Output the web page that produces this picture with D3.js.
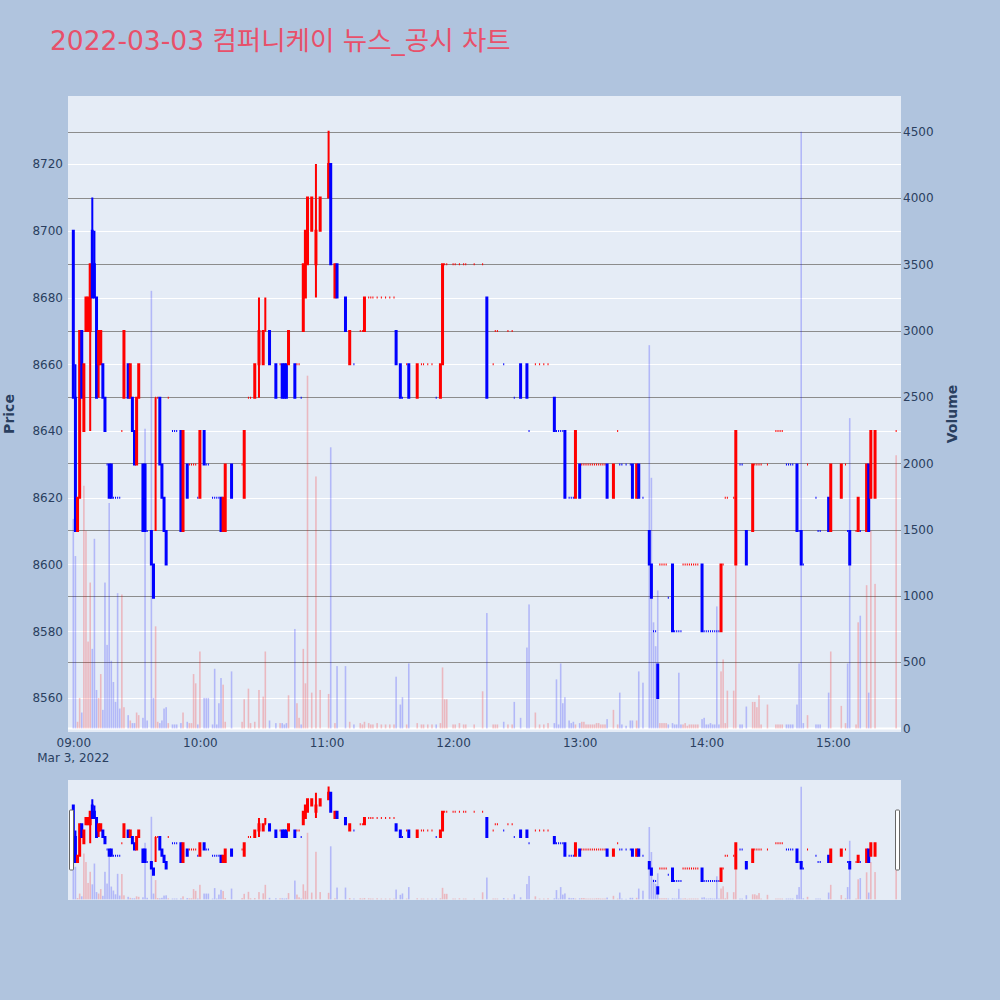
<!DOCTYPE html>
<html>
<head>
<meta charset="utf-8">
<script src="https://cdn.jsdelivr.net/npm/d3@7"></script>
<style>
body { margin: 0; background: #b0c4de; }
svg { display: block; font-family: "DejaVu Sans", "Noto Sans CJK KR", sans-serif; }
</style>
</head>
<body>
<svg id="chart" width="1000" height="1000"></svg>
<script>
// 1분봉 (체결 있는 분만)
const times = [
  "09:00","09:01","09:02","09:03","09:04","09:05","09:06","09:07","09:08","09:09","09:10","09:11","09:12","09:13","09:14","09:15","09:16","09:17","09:18","09:19","09:20","09:21","09:22","09:23","09:24","09:26","09:27","09:28","09:29","09:30","09:31","09:33","09:34","09:35","09:37","09:38","09:39","09:40","09:41","09:42","09:43","09:44","09:45","09:47","09:48","09:49","09:51","09:52","09:54","09:55","09:56","09:57","09:58","09:59",
  "10:00","10:02","10:03","10:04","10:06","10:07","10:08","10:09","10:10","10:11","10:12","10:15","10:20","10:21","10:23","10:24","10:26","10:28","10:30","10:31","10:33","10:36","10:38","10:39","10:40","10:41","10:42","10:45","10:46","10:47","10:48","10:49","10:50","10:51","10:53","10:55","10:57",
  "11:01","11:02","11:04","11:05","11:09","11:11","11:13","11:16","11:17","11:18","11:20","11:21","11:22","11:24","11:26","11:28","11:30","11:32","11:33","11:35","11:36","11:38","11:39","11:43","11:45","11:46","11:48","11:50","11:52","11:54","11:55","11:56","11:57",
  "12:00","12:01","12:03","12:05","12:06","12:10","12:14","12:16","12:19","12:20","12:21","12:24","12:26","12:28","12:29","12:32","12:35","12:36","12:39","12:41","12:43","12:45","12:48","12:49","12:50","12:51","12:52","12:53","12:55","12:56","12:57","12:58",
  "13:00","13:01","13:02","13:03","13:04","13:05","13:06","13:07","13:08","13:09","13:10","13:11","13:12","13:13","13:16","13:18","13:19","13:20","13:22","13:24","13:25","13:27","13:28","13:30","13:33","13:34","13:35","13:36","13:37","13:38","13:39","13:40","13:41","13:42","13:44","13:45","13:46","13:47","13:48","13:49","13:50","13:51","13:52","13:53","13:54","13:55","13:56","13:58","13:59",
  "14:00","14:01","14:02","14:03","14:04","14:05","14:06","14:07","14:08","14:09","14:10","14:13","14:14","14:16","14:17","14:19","14:22","14:23","14:24","14:25","14:26","14:29","14:33","14:34","14:35","14:36","14:38","14:39","14:40","14:41","14:43","14:44","14:45","14:46","14:48","14:52","14:53","14:54","14:58","14:59",
  "15:04","15:06","15:07","15:08","15:11","15:12","15:13","15:16","15:17","15:18","15:20","15:30"
];
const opens = [
  8700,8650,8610,8620,8670,8640,8670,8670,8670,8700, 8690,8680,8660,8660,8660,8650,8630,8630,8630,8620, 8620,8620,8620,8640,8650, 8660,8650,8650,8640,8630,8650, 8630,8630,8610, 8610,8600,8650,8650,8650,8630,8620,8610,8650, 8640,8640,8640, 8640,8610, 8630,8630,8630,8630,8630,8620,
  8620,8640,8630,8630,8620,8620,8620,8620,8620,8610, 8610,8630,8630,8620,8650,8650,8650,8660,8660,8670, 8670,8660,8660,8660,8660,8660,8660,8660,8660,8660, 8650,8670,8680,8690,8700,8690,8700,
  8710,8720,8680,8690,8680,8660,8660,8670,8670,8670, 8680,8680,8680,8680,8680,8680,8680,8680,8670,8660, 8650,8660,8660,8650,8660,8660,8660,8660,8650,8650, 8660,8690,8690,
  8690,8690,8690,8690,8690,8690,8690,8680,8660,8670, 8670,8660,8670,8670,8650,8660,8660,8640,8660,8660, 8660,8660,8650,8640,8640,8640,8640,8640,8620,8620, 8620,8620,
  8630,8630,8630,8630,8630,8630,8630,8630,8630,8630,8630,8630,8630, 8630,8620,8640,8630,8630,8630,8630,8630,8620,8630,8620, 8610,8600,8580,8580,8570, 8600,8600,8600,8600,8590,8600, 8580,8580,8580,8580, 8600,8600,8600,8600,8600,8600,8600,8600, 8600,8580,
  8580,8580,8580,8580,8580,8580,8580, 8580,8600,8620,8620,8620,8600, 8630,8630,8610,8610, 8630,8630,8630,8630,8630, 8640,8640,8640,8640, 8630,8630,8630,8630, 8630,8610,8610,8600,8630, 8620,8610,8610, 8620,8610,
  8620,8630,8610,8610,8610,8610,8610,8610,8630,8620,8620,8640
];
const highs = [
  8700,8660,8620,8670,8670,8660,8680,8680,8690,8710, 8700,8680,8670,8670,8660,8650,8630,8630,8630,8620, 8620,8620,8620,8640,8670, 8660,8660,8650,8640,8650,8660, 8630,8630,8610, 8610,8600,8650,8650,8650,8630,8620,8610,8650, 8640,8640,8640, 8640,8640, 8630,8630,8630,8630,8630,8620,
  8640,8640,8630,8630,8620,8620,8620,8620,8620,8620, 8630,8630,8630,8640,8650,8650,8660,8680,8670,8680, 8670,8660,8660,8660,8660,8660,8670,8660,8660,8660, 8650,8690,8700,8710,8710,8720,8710,
  8730,8720,8690,8690,8680,8670,8660,8670,8670,8680, 8680,8680,8680,8680,8680,8680,8680,8680,8670,8660, 8650,8660,8660,8660,8660,8660,8660,8660,8650,8660, 8690,8690,8690,
  8690,8690,8690,8690,8690,8690,8690,8680,8660,8670, 8670,8660,8670,8670,8650,8660,8660,8640,8660,8660, 8660,8660,8650,8640,8640,8640,8640,8640,8620,8620, 8620,8640,
  8630,8630,8630,8630,8630,8630,8630,8630,8630,8630,8630,8630,8630, 8630,8630,8640,8630,8630,8630,8630,8630,8630,8630,8620, 8610,8600,8580,8580,8570, 8600,8600,8600,8600,8590,8600, 8580,8580,8580,8580, 8600,8600,8600,8600,8600,8600,8600,8600, 8600,8580,
  8580,8580,8580,8580,8580,8580,8580, 8600,8600,8620,8620,8620,8640, 8630,8630,8610,8630, 8630,8630,8630,8630,8630, 8640,8640,8640,8640, 8630,8630,8630,8630, 8630,8610,8610,8600,8630, 8620,8610,8610, 8620,8630,
  8630,8630,8610,8610,8610,8620,8610,8630,8630,8640,8640,8640
];
const lows = [
  8650,8610,8610,8620,8650,8640,8670,8670,8640,8680, 8680,8650,8650,8660,8650,8640,8630,8620,8620,8620, 8620,8620,8620,8640,8650, 8650,8650,8640,8630,8630,8650, 8610,8610,8610, 8600,8590,8610,8650,8630,8620,8610,8600,8650, 8640,8640,8640, 8610,8610, 8620,8630,8630,8630,8630,8620,
  8620,8630,8630,8630,8620,8620,8620,8620,8610,8610, 8610,8620,8630,8620,8650,8650,8650,8650,8660,8670, 8660,8650,8660,8650,8650,8650,8660,8650,8660,8660, 8650,8670,8680,8690,8700,8680,8700,
  8710,8690,8680,8680,8670,8660,8660,8670,8670,8670, 8680,8680,8680,8680,8680,8680,8680,8680,8660,8650, 8650,8660,8650,8650,8660,8660,8660,8660,8650,8650, 8660,8690,8690,
  8690,8690,8690,8690,8690,8690,8690,8650,8660,8670, 8670,8660,8670,8670,8650,8650,8650,8640,8660,8660, 8660,8660,8640,8640,8640,8640,8640,8620,8620,8620, 8620,8620,
  8620,8630,8630,8630,8630,8630,8630,8630,8630,8630,8630,8630,8630, 8620,8620,8640,8630,8630,8630,8630,8620,8620,8620,8620, 8600,8590,8580,8580,8560, 8600,8600,8600,8600,8590,8580, 8580,8580,8580,8580, 8600,8600,8600,8600,8600,8600,8600,8600, 8580,8580,
  8580,8580,8580,8580,8580,8580,8580, 8580,8600,8620,8620,8620,8600, 8630,8630,8600,8610, 8630,8630,8630,8630,8630, 8640,8640,8640,8640, 8630,8630,8630,8630, 8610,8610,8600,8600,8630, 8620,8610,8610, 8610,8610,
  8620,8630,8610,8600,8610,8610,8610,8610,8610,8620,8620,8640
];
const closes = [
  8650,8610,8620,8670,8650,8660,8680,8680,8690,8680, 8680,8650,8670,8670,8650,8640,8630,8620,8620,8620, 8620,8620,8620,8640,8670, 8650,8660,8640,8630,8650,8660, 8610,8610,8610, 8600,8590,8650,8650,8630,8620,8610,8600,8650, 8640,8640,8640, 8610,8640, 8620,8630,8630,8630,8630,8620,
  8640,8630,8630,8630,8620,8620,8620,8620,8610,8620, 8630,8620,8630,8640,8650,8650,8660,8670,8670,8670, 8660,8650,8660,8650,8650,8650,8670,8650,8660,8660, 8650,8690,8700,8710,8710,8700,8710,
  8720,8690,8690,8680,8670,8670,8660,8670,8670,8680, 8680,8680,8680,8680,8680,8680,8680,8680,8660,8650, 8650,8660,8650,8660,8660,8660,8660,8660,8650,8660, 8690,8690,8690,
  8690,8690,8690,8690,8690,8690,8690,8650,8660,8670, 8670,8660,8670,8670,8650,8650,8650,8640,8660,8660, 8660,8660,8640,8640,8640,8640,8640,8620,8620,8620, 8620,8640,
  8620,8630,8630,8630,8630,8630,8630,8630,8630,8630,8630,8630,8630, 8620,8630,8640,8630,8630,8630,8630,8620,8630,8620,8620, 8600,8590,8580,8580,8560, 8600,8600,8600,8600,8590,8580, 8580,8580,8580,8580, 8600,8600,8600,8600,8600,8600,8600,8600, 8580,8580,
  8580,8580,8580,8580,8580,8580,8580, 8600,8600,8620,8620,8620,8640, 8630,8630,8600,8630, 8630,8630,8630,8630,8630, 8640,8640,8640,8640, 8630,8630,8630,8630, 8610,8610,8600,8600,8630, 8620,8610,8610, 8610,8630,
  8630,8630,8610,8600,8610,8620,8610,8630,8610,8640,8640,8640
];
const volumes = [
  1580,1300,50,230,120,1830,1490,655,1100,600, 1430,290,230,410,140,1100,630,1700,510,350, 200,1020,150,1010,160, 100,60,40,40,120,100, 80,2260,60, 3300,230,770,50,40,60,150,160,40, 30,30,30, 40,120, 50,40,40,410,340,30,
  580,230,230,230,30,450,30,190,380,330, 50,430,50,220,300,40,50,290,240,580, 60,40,40,40,30,40,250,750,190,80, 30,600,340,2660,270,1900,290,
  260,2120,40,470,470,50,30,40,30,50, 40,30,30,40,30,30,30,30,390,180, 235,30,490,40,30,30,30,30,30,40, 460,220,220,
  30,30,40,30,30,30,280,870,30,30, 30,50,30,30,200,80,610,935,120,30, 30,40,40,370,30,490,190,235,60,40, 50,30,
  40,50,50,30,30,30,30,30,40,40,30,30,30, 70,140,30,270,30,20,60,60,60,430,345, 2890,1890,800,620,1040, 40,40,40,40,30,40, 30,30,420,30, 30,40,20,30,30,30,30,30, 70,80,
  30,30,40,30,30,920,30, 430,520,40,285,285,1300, 30,30,165,200, 200,160,250,30,180, 30,30,30,30, 30,30,30,30, 180,490,4500,40,100, 30,30,30, 270,580,
  170,40,490,2340,30,800,850,1080,270,1490,1090,2060
];

const priceTicks = [8560, 8580, 8600, 8620, 8640, 8660, 8680, 8700, 8720];
const volumeTicks = [0, 500, 1000, 1500, 2000, 2500, 3000, 3500, 4000, 4500];
const hourTicks = ["09:00", "10:00", "11:00", "12:00", "13:00", "14:00", "15:00"];

const titleText = "2022-03-03 컴퍼니케이 뉴스_공시 차트";
const day = "2022-03-03";

const INC = "#ff0000", DEC = "#0000ff";
const INK = "#2a3f5f";
const PLOT_BG = "#e5ecf6";

const plot = { left: 68, right: 901, top: 96, bottom: 732 };
const slider = { top: 780, bottom: 900 };

const svg = d3.select("#chart");

const parseTime = d3.timeParse("%Y-%m-%d %H:%M");
const dates = times.map(t => parseTime(day + " " + t));
const t0 = parseTime(day + " 09:00");
const MIN = 60000;

// 도지의 방향은 직전 종가로 판단
let dir = [];
closes.forEach((c, i) => {
  const o = opens[i];
  let d;
  if (c > o) d = 1;
  else if (c < o) d = -1;
  else if (i === 0) d = -1;
  else if (c > closes[i - 1]) d = 1;
  else if (c < closes[i - 1]) d = -1;
  else d = dir[i - 1];
  dir.push(d);
});
const candleColor = i => dir[i] > 0 ? INC : DEC;

let x = d3.scaleTime()
  .domain([new Date(+t0 - 2.52 * MIN), new Date(+t0 + 392.3 * MIN)])
  .range([plot.left, plot.right]);

let yPrice = d3.scaleLinear().domain([8549.8, 8740.4]).range([plot.bottom, plot.top]);
let yVol = d3.scaleLinear().domain([-27, 4769]).range([plot.bottom, plot.top]);

// 제목
svg.append("text")
  .attr("x", 50).attr("y", 50)
  .attr("font-size", 26.5)
  .attr("fill", "#e8506a")
  .text(titleText);

// 메인 영역
svg.append("rect")
  .attr("x", plot.left).attr("y", plot.top)
  .attr("width", plot.right - plot.left).attr("height", plot.bottom - plot.top)
  .attr("fill", PLOT_BG);

let defs = svg.append("defs");
defs.append("clipPath").attr("id", "clipMain")
  .append("rect")
  .attr("x", plot.left).attr("y", plot.top)
  .attr("width", plot.right - plot.left).attr("height", plot.bottom - plot.top);
defs.append("clipPath").attr("id", "clipSlider")
  .append("rect")
  .attr("x", plot.left).attr("y", slider.top)
  .attr("width", plot.right - plot.left).attr("height", slider.bottom - slider.top);

// 그리드
let grid = svg.append("g");
grid.selectAll("line.pgrid").data(priceTicks).join("line")
  .attr("class", "pgrid")
  .attr("x1", plot.left).attr("x2", plot.right)
  .attr("y1", d => Math.round(yPrice(d)) + 0.5).attr("y2", d => Math.round(yPrice(d)) + 0.5)
  .attr("stroke", "#ffffff").attr("stroke-width", 1);
grid.selectAll("line.vgrid").data(volumeTicks.filter(v => v > 0)).join("line")
  .attr("class", "vgrid")
  .attr("x1", plot.left).attr("x2", plot.right)
  .attr("y1", d => Math.round(yVol(d)) + 0.5).attr("y2", d => Math.round(yVol(d)) + 0.5)
  .attr("stroke", "#8c8c8c").attr("stroke-width", 1);
grid.append("line")
  .attr("x1", plot.left).attr("x2", plot.right)
  .attr("y1", yVol(0)).attr("y2", yVol(0))
  .attr("stroke", "#ffffff").attr("stroke-width", 2);

const idx = d3.range(times.length);

const candlePath = (yScale, bw) => i => {
  const cx = x(dates[i]);
  const yo = yScale(opens[i]), yc = yScale(closes[i]);
  const top = Math.min(yo, yc), bot = Math.max(yo, yc);
  return "M" + (cx - bw) + "," + bot + "H" + (cx + bw) + "V" + top + "H" + (cx - bw) + "Z" +
    "M" + cx + "," + top + "V" + yScale(highs[i]) +
    "M" + cx + "," + bot + "V" + yScale(lows[i]);
};

const drawCandles = (g, yScale, bw, sw) => {
  g.selectAll("path").data(idx).join("path")
    .attr("d", candlePath(yScale, bw))
    .attr("fill", candleColor)
    .attr("stroke", candleColor)
    .attr("stroke-width", sw);
};

const drawVolume = (g, yScale, bw) => {
  g.selectAll("rect").data(idx).join("rect")
    .attr("x", i => x(dates[i]) - bw / 2)
    .attr("width", bw)
    .attr("y", i => yScale(volumes[i]))
    .attr("height", i => yScale(0) - yScale(volumes[i]))
    .attr("fill", candleColor)
    .attr("fill-opacity", 0.22);
};

let mainCandles = svg.append("g").attr("clip-path", "url(#clipMain)");
drawCandles(mainCandles, yPrice, 0.5, 2);
let mainVol = svg.append("g").attr("clip-path", "url(#clipMain)");
drawVolume(mainVol, yVol, 1.6);

// 축
let leftAxis = d3.axisLeft(yPrice).tickValues(priceTicks).tickSize(0).tickPadding(5).tickFormat(d3.format("d"));
let gLeft = svg.append("g").attr("transform", "translate(" + plot.left + ",0)").call(leftAxis);

let rightAxis = d3.axisRight(yVol).tickValues(volumeTicks).tickSize(0).tickPadding(2).tickFormat(d3.format("d"));
let gRight = svg.append("g").attr("transform", "translate(" + plot.right + ",0)").call(rightAxis);

let hourDates = hourTicks.map(t => parseTime(day + " " + t));
let bottomAxis = d3.axisBottom(x).tickValues(hourDates).tickSize(0).tickPadding(6).tickFormat(d3.timeFormat("%H:%M"));
let gBottom = svg.append("g").attr("transform", "translate(0," + plot.bottom + ")").call(bottomAxis);

[gLeft, gRight, gBottom].forEach(g => {
  g.select(".domain").remove();
  g.selectAll("text")
    .attr("fill", INK)
    .attr("font-size", 12)
    .attr("font-family", "DejaVu Sans, sans-serif");
});

svg.append("text")
  .attr("x", x(t0)).attr("y", 762)
  .attr("text-anchor", "middle")
  .attr("font-size", 12).attr("fill", INK)
  .text(d3.timeFormat("%b %-d, %Y")(t0));

svg.append("text")
  .attr("transform", "translate(14,414) rotate(-90)")
  .attr("text-anchor", "middle")
  .attr("font-size", 14).attr("font-weight", "bold").attr("fill", INK)
  .text("Price");

svg.append("text")
  .attr("transform", "translate(957,414) rotate(-90)")
  .attr("text-anchor", "middle")
  .attr("font-size", 14).attr("font-weight", "bold").attr("fill", INK)
  .text("Volume");

// 레인지 슬라이더
svg.append("rect")
  .attr("x", plot.left).attr("y", slider.top)
  .attr("width", plot.right - plot.left).attr("height", slider.bottom - slider.top)
  .attr("fill", PLOT_BG);

let ySlidePrice = yPrice.copy().range([slider.bottom, slider.top]);
let ySlideVol = yVol.copy().range([slider.bottom, slider.top]);

let slideCandles = svg.append("g").attr("clip-path", "url(#clipSlider)");
drawCandles(slideCandles, ySlidePrice, 0.5, 2);
let slideVol = svg.append("g").attr("clip-path", "url(#clipSlider)");
drawVolume(slideVol, ySlideVol, 1.6);

const handleH = (slider.bottom - slider.top) / 2;
[plot.left + 1.5, plot.right - 5.5].forEach(hx => {
  svg.append("rect")
    .attr("x", hx).attr("y", slider.top + handleH / 2)
    .attr("width", 4).attr("height", handleH)
    .attr("rx", 1)
    .attr("fill", "#ffffff")
    .attr("stroke", "#666666").attr("stroke-width", 1);
});
</script>
</body>
</html>
